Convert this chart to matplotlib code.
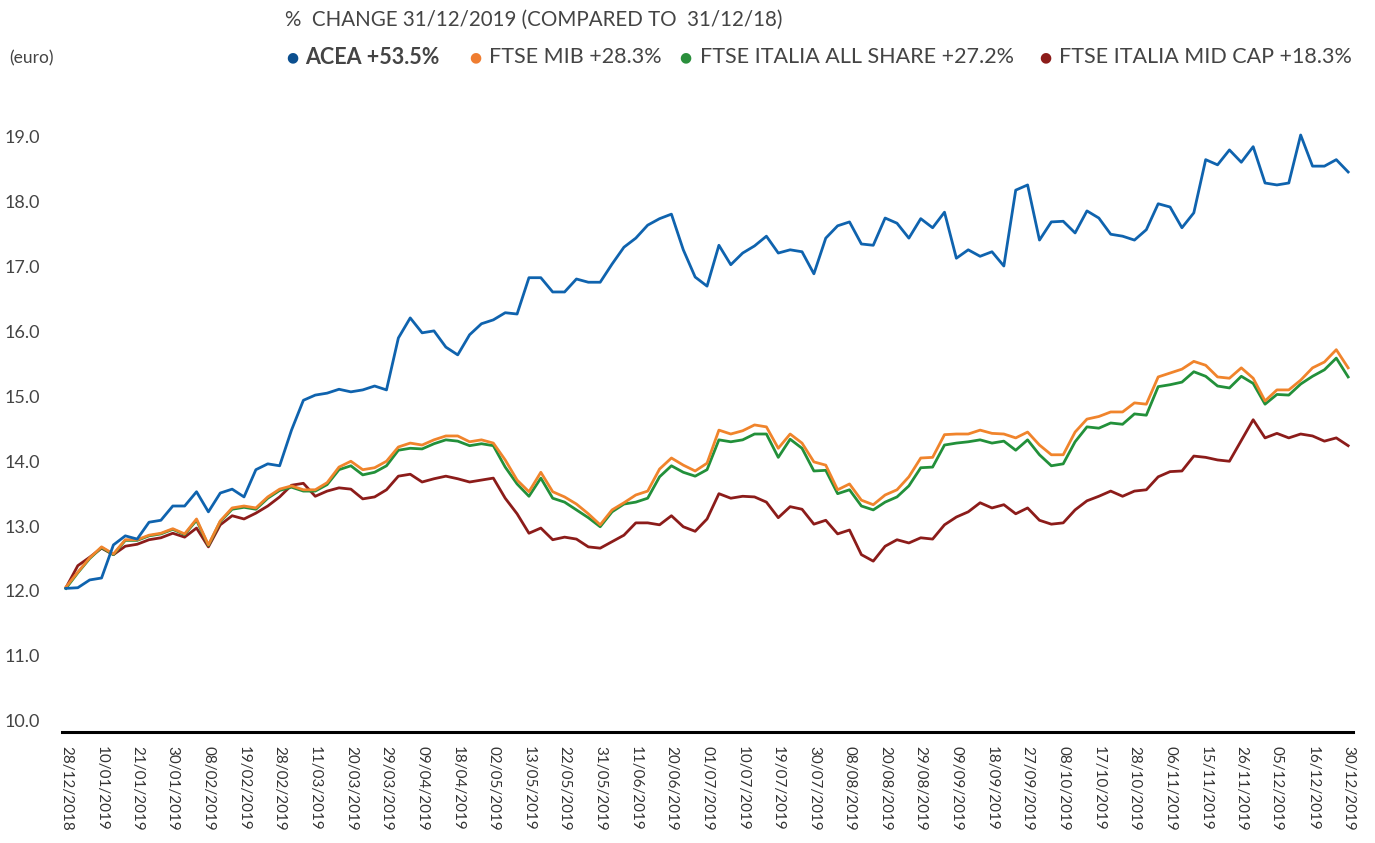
import matplotlib
matplotlib.use("Agg")
import matplotlib.pyplot as plt
import numpy as np

plt.rcParams['font.family'] = ['Lato', 'DejaVu Sans']

# tick labels (one every ~7 trading days)
tick_labels = ['28/12/2018', '10/01/2019', '21/01/2019', '30/01/2019', '08/02/2019', '19/02/2019',
               '28/02/2019', '11/03/2019', '20/03/2019', '29/03/2019', '09/04/2019', '18/04/2019',
               '02/05/2019', '13/05/2019', '22/05/2019', '31/05/2019', '11/06/2019', '20/06/2019',
               '01/07/2019', '10/07/2019', '19/07/2019', '30/07/2019', '08/08/2019', '20/08/2019',
               '29/08/2019', '09/09/2019', '18/09/2019', '27/09/2019', '08/10/2019', '17/10/2019',
               '28/10/2019', '06/11/2019', '15/11/2019', '26/11/2019', '05/12/2019', '16/12/2019',
               '30/12/2019']

# values read every 1/3 of a tick interval (euro, indices rebased on ACEA)
acea = [12.04, 12.05, 12.17, 12.20, 12.71, 12.85, 12.80, 13.06, 13.09, 13.31,
        13.31, 13.53, 13.22, 13.51, 13.57, 13.45, 13.87, 13.96, 13.93, 14.48,
        14.94, 15.02, 15.05, 15.11, 15.07, 15.10, 15.16, 15.10, 15.90, 16.21,
        15.98, 16.01, 15.76, 15.64, 15.95, 16.12, 16.18, 16.29, 16.27, 16.83,
        16.83, 16.61, 16.61, 16.81, 16.76, 16.76, 17.04, 17.30, 17.44, 17.64,
        17.74, 17.81, 17.26, 16.84, 16.70, 17.33, 17.03, 17.21, 17.32, 17.47,
        17.21, 17.26, 17.23, 16.89, 17.44, 17.63, 17.69, 17.35, 17.33, 17.75,
        17.67, 17.44, 17.74, 17.60, 17.84, 17.13, 17.26, 17.16, 17.23, 17.01,
        18.18, 18.26, 17.41, 17.69, 17.70, 17.52, 17.86, 17.75, 17.50, 17.47,
        17.41, 17.57, 17.97, 17.92, 17.60, 17.83, 18.65, 18.57, 18.80, 18.61,
        18.85, 18.29, 18.26, 18.29, 19.03, 18.55, 18.55, 18.65, 18.46]

ftse_mib = [12.06, 12.29, 12.51, 12.68, 12.57, 12.79, 12.79, 12.86, 12.89, 12.96,
            12.88, 13.11, 12.71, 13.08, 13.28, 13.31, 13.28, 13.45, 13.57, 13.62,
            13.56, 13.56, 13.67, 13.91, 14.00, 13.87, 13.90, 14.00, 14.22, 14.28,
            14.25, 14.33, 14.39, 14.39, 14.30, 14.33, 14.28, 14.02, 13.71, 13.53,
            13.83, 13.53, 13.45, 13.34, 13.19, 13.02, 13.25, 13.36, 13.48, 13.54,
            13.88, 14.05, 13.94, 13.85, 13.97, 14.48, 14.42, 14.47, 14.56, 14.53,
            14.20, 14.42, 14.28, 13.99, 13.94, 13.56, 13.65, 13.40, 13.33, 13.48,
            13.56, 13.76, 14.05, 14.06, 14.41, 14.42, 14.42, 14.48, 14.43, 14.42,
            14.36, 14.45, 14.25, 14.10, 14.10, 14.45, 14.65, 14.69, 14.76, 14.76,
            14.90, 14.88, 15.30, 15.36, 15.42, 15.54, 15.48, 15.30, 15.28, 15.44,
            15.28, 14.93, 15.10, 15.10, 15.25, 15.44, 15.53, 15.72, 15.44]

ftse_all_share = [12.04, 12.28, 12.50, 12.67, 12.56, 12.78, 12.78, 12.85, 12.88, 12.95,
                  12.87, 13.09, 12.70, 13.07, 13.26, 13.29, 13.26, 13.43, 13.55, 13.60,
                  13.54, 13.54, 13.64, 13.87, 13.93, 13.79, 13.83, 13.93, 14.17, 14.20,
                  14.19, 14.27, 14.33, 14.31, 14.24, 14.27, 14.24, 13.91, 13.65, 13.46,
                  13.74, 13.43, 13.37, 13.25, 13.13, 12.99, 13.22, 13.34, 13.37, 13.43,
                  13.76, 13.93, 13.83, 13.77, 13.87, 14.33, 14.30, 14.33, 14.42, 14.42,
                  14.06, 14.34, 14.20, 13.85, 13.86, 13.50, 13.56, 13.31, 13.25, 13.37,
                  13.45, 13.62, 13.90, 13.91, 14.25, 14.28, 14.30, 14.33, 14.28, 14.31,
                  14.17, 14.33, 14.10, 13.93, 13.96, 14.30, 14.53, 14.51, 14.59, 14.57,
                  14.73, 14.71, 15.15, 15.18, 15.22, 15.38, 15.31, 15.16, 15.13, 15.31,
                  15.20, 14.88, 15.03, 15.02, 15.19, 15.31, 15.41, 15.59, 15.30]

ftse_mid_cap = [12.05, 12.39, 12.52, 12.66, 12.56, 12.69, 12.72, 12.79, 12.82, 12.89,
                12.83, 12.97, 12.68, 13.02, 13.16, 13.11, 13.20, 13.31, 13.45, 13.63,
                13.66, 13.46, 13.54, 13.59, 13.57, 13.42, 13.45, 13.56, 13.77, 13.80,
                13.68, 13.73, 13.77, 13.73, 13.68, 13.71, 13.74, 13.43, 13.19, 12.89,
                12.97, 12.79, 12.83, 12.80, 12.68, 12.66, 12.76, 12.86, 13.05, 13.05,
                13.02, 13.16, 12.99, 12.92, 13.11, 13.50, 13.43, 13.46, 13.45, 13.37,
                13.13, 13.30, 13.26, 13.03, 13.09, 12.88, 12.94, 12.56, 12.46, 12.69,
                12.79, 12.74, 12.82, 12.80, 13.02, 13.14, 13.22, 13.36, 13.28, 13.33,
                13.19, 13.28, 13.09, 13.03, 13.05, 13.25, 13.39, 13.46, 13.54, 13.46,
                13.54, 13.56, 13.76, 13.84, 13.85, 14.08, 14.06, 14.02, 14.00, 14.32,
                14.64, 14.36, 14.43, 14.36, 14.42, 14.39, 14.31, 14.36, 14.24]

yticks = [10, 11, 12, 13, 14, 15, 16, 17, 18, 19]

c_blue = '#0f63ae'
c_orange = '#f0842c'
c_green = '#22903a'
c_red = '#8c1c1a'

fig = plt.figure(figsize=(13.75, 8.43), dpi=100)
ax = fig.add_axes([0.0451, 0.1317, 0.939, 0.7497])

x = np.arange(len(acea)) / 3.0
ax.plot(x, ftse_mid_cap, color=c_red, lw=2.0)
ax.plot(x, ftse_all_share, color=c_green, lw=2.0)
ax.plot(x, ftse_mib, color=c_orange, lw=2.0)
ax.plot(x, acea, color=c_blue, lw=2.0)

ax.set_xlim(-0.11, 36.14)
ax.set_ylim(9.826, 19.57)
ax.set_xticks(range(len(tick_labels)))
ax.set_xticklabels(tick_labels, rotation=270, fontsize=11, color='#333333')
ax.set_yticks(yticks)
ax.set_yticklabels(['%.1f' % v for v in yticks], fontsize=13, color='#444444')
ax.tick_params(axis='both', length=0)
ax.tick_params(axis='y', pad=16)
ax.tick_params(axis='x', pad=10)

for s in ['top', 'right', 'left']:
    ax.spines[s].set_visible(False)
ax.spines['bottom'].set_linewidth(2.2)
ax.spines['bottom'].set_color('black')

fig.text(0.007, 0.931, '(euro)', fontsize=12.5, color='#444444', va='center')
fig.text(0.2073, 0.976, '%  CHANGE 31/12/2019 (COMPARED TO  31/12/18)',
         fontsize=14.8, color='#444444', va='center')

legend = [('ACEA +53.5%', '#0b4f8f', 0.2124, 0.2218, 'bold'),
          ('FTSE MIB +28.3%', '#ef7d31', 0.3455, 0.3556, 'normal'),
          ('FTSE ITALIA ALL SHARE +27.2%', '#2a8f3c', 0.4982, 0.5091, 'normal'),
          ('FTSE ITALIA MID CAP +18.3%', '#8c1c1a', 0.7600, 0.7702, 'normal')]
for label, col, xd, xt, w in legend:
    fig.text(xd, 0.932, '\u25cf', fontsize=10, color=col, va='center', ha='center',
             family=['DejaVu Sans'])
    fig.text(xt, 0.932, label, fontsize=15.5, color='#444444', va='center', fontweight=w)

fig.savefig('out.png', dpi=100)
